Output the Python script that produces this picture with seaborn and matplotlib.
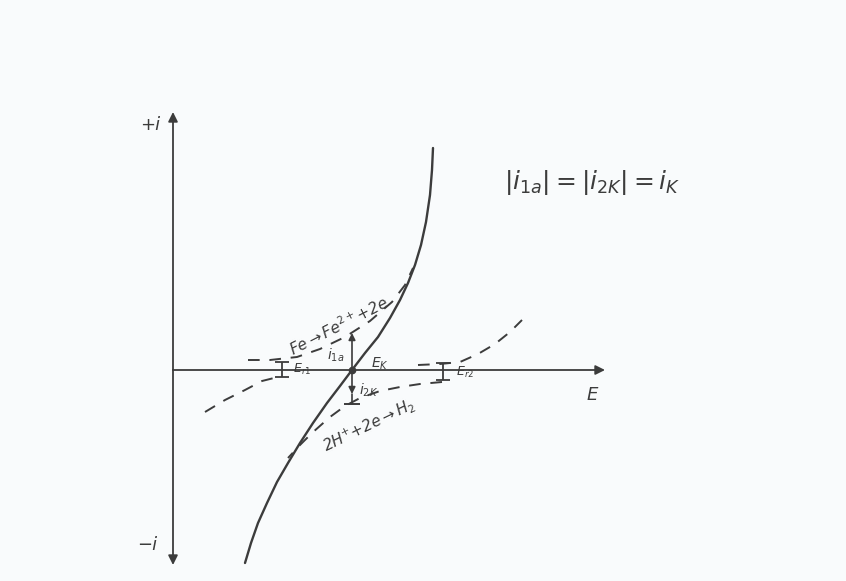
# Evans diagram (hand-drawn scan) - corrosion of Fe with hydrogen evolution
import numpy as np
import pandas as pd
import matplotlib.pyplot as plt
import seaborn as sns

# -----------------------------
# Data (E, i)
# -----------------------------
total_E = [7.2, 7.8, 8.5, 9.4, 10.4, 11.5, 12.7, 14.0, 15.4, 16.7, 17.9,
           19.2, 20.5, 21.7, 22.7, 23.5, 24.2, 24.8, 25.3, 25.7, 25.9, 26.0]
total_i = [-19.3, -17.3, -15.3, -13.3, -11.2, -9.3, -7.3, -5.3, -3.3, -1.6, 0.0,
           1.7, 3.3, 5.2, 7.0, 8.7, 10.5, 12.5, 14.8, 17.5, 20.0, 22.2]

fe_anodic_E = [7.5, 9.7, 12.4, 14.7, 17.2, 19.7, 21.9, 23.2, 24.0]
fe_anodic_i = [1.0, 1.0, 1.3, 2.1, 3.3, 4.9, 6.8, 8.5, 10.2]

fe_cathodic_E = [3.2, 5.2, 7.2, 8.9, 10.9]
fe_cathodic_i = [-4.2, -3.0, -2.0, -1.1, -0.6]

h_anodic_E = [24.5, 26.7, 28.7, 30.5, 32.2, 33.7, 34.9]
h_anodic_i = [0.5, 0.6, 0.8, 1.6, 2.6, 3.8, 5.0]

h_cathodic_E = [26.9, 24.7, 22.7, 20.7, 18.7, 17.2, 15.7, 13.9, 12.7, 11.5]
h_cathodic_i = [-1.2, -1.4, -1.7, -2.1, -2.8, -3.6, -4.7, -6.3, -7.5, -8.8]

# characteristic potentials and currents
E_r1, E_r2, E_K = 10.9, 27.0, 17.9
i_1a, i_2K = 3.7, -3.4

ink = "#3c3c3c"
bg = "#f9fbfc"

sns.set_style("white")
plt.rcParams["font.family"] = ["DejaVu Sans"]
plt.rcParams["mathtext.fontset"] = "dejavusans"

fig = plt.figure(figsize=(8.46, 5.81), dpi=100, facecolor=bg)
ax = fig.add_axes([0, 0, 1, 1], facecolor=bg)
ax.set_xlim(-17.3, 67.3)
ax.set_ylim(-21.1, 37.0)
ax.axis("off")

# -----------------------------
# Curves
# -----------------------------
sns.lineplot(x=total_E, y=total_i, sort=False, ax=ax, color=ink, lw=1.7,
             solid_joinstyle="round", solid_capstyle="round")

dash = (0, (6, 5))
for E, i in [(fe_anodic_E, fe_anodic_i), (fe_cathodic_E, fe_cathodic_i),
             (h_anodic_E, h_anodic_i), (h_cathodic_E, h_cathodic_i)]:
    sns.lineplot(x=E, y=i, sort=False, ax=ax, color=ink, lw=1.4, linestyle=dash)

# -----------------------------
# Axes arrows
# -----------------------------
arrow = dict(arrowstyle="-|>", color=ink, lw=1.3, mutation_scale=14, shrinkA=0, shrinkB=0)
ax.annotate("", xy=(0, 25.8), xytext=(0, 0), arrowprops=arrow)
ax.annotate("", xy=(0, -19.5), xytext=(0, 0), arrowprops=arrow)
ax.annotate("", xy=(43.2, 0), xytext=(0, 0), arrowprops=arrow)

# i1a and i2K arrows at E_K
small = dict(arrowstyle="-|>", color=ink, lw=1.2, mutation_scale=10, shrinkA=0, shrinkB=0)
ax.annotate("", xy=(E_K, i_1a), xytext=(E_K, 0), arrowprops=small)
ax.annotate("", xy=(E_K, i_2K + 1.0), xytext=(E_K, 0), arrowprops=small)
ax.plot([E_K, E_K], [i_2K + 1.0, i_2K], color=ink, lw=1.2)
ax.plot([E_K], [i_2K], marker="_", ms=11, mew=1.4, color=ink)
ax.plot([E_K], [0], marker="o", ms=4.5, color=ink)

# equilibrium potential markers
ax.errorbar([E_r1], [0.05], yerr=[0.75], fmt="none", ecolor=ink, elinewidth=1.3, capsize=5, capthick=1.3)
ax.errorbar([E_r2], [-0.15], yerr=[0.85], fmt="none", ecolor=ink, elinewidth=1.3, capsize=5, capthick=1.3)

# -----------------------------
# Labels
# -----------------------------
txt = dict(color=ink, style="italic", ha="center", va="center")
ax.text(-2.3, 24.5, "+i", fontsize=13, **txt)
ax.text(-2.6, -17.5, "\u2212i", fontsize=13, **txt)
ax.text(41.9, -2.5, "E", fontsize=13, **txt)
ax.text(41.9, 18.8, r"$|i_{1a}|=|i_{2K}|=i_K$", fontsize=18, **txt)
ax.text(16.6, 4.4, r"Fe$\rightarrow$Fe$^{2+}$+2e", fontsize=11, rotation=27, **txt)
ax.text(19.6, -5.5, r"2H$^{+}$+2e$\rightarrow$H$_2$", fontsize=11, rotation=26, **txt)
ax.text(16.3, 1.5, r"$i_{1a}$", fontsize=10, **txt)
ax.text(19.6, -2.0, r"$i_{2K}$", fontsize=10, **txt)
ax.text(20.7, 0.6, r"E$_K$", fontsize=10, **txt)
ax.text(12.9, 0.1, r"E$_{r1}$", fontsize=9, **txt)
ax.text(29.2, -0.2, r"E$_{r2}$", fontsize=9, **txt)

plt.savefig("out.png", dpi=100, facecolor=bg)
